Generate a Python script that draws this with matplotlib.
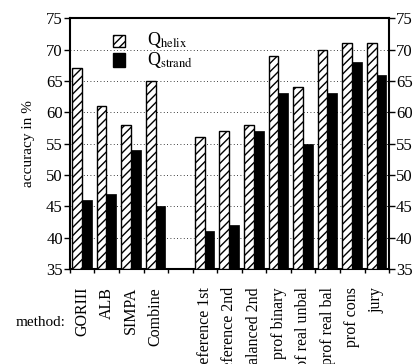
import matplotlib
matplotlib.use("Agg")
import matplotlib.pyplot as plt
import numpy as np

methods = ["GORIII", "ALB", "SIMPA", "Combine", "",
           "reference 1st", "reference 2nd", "balanced 2nd", "prof binary",
           "prof real unbal", "prof real bal", "prof cons", "jury"]
q_helix = [67, 61, 58, 65, np.nan, 56, 57, 58, 69, 64, 70, 71, 71]
q_strand = [46, 47, 54, 45, np.nan, 41, 42, 57, 63, 55, 63, 68, 66]
yticks = [35, 40, 45, 50, 55, 60, 65, 70, 75]

plt.rcParams["font.family"] = ["Liberation Serif", "DejaVu Serif"]
plt.rcParams["mathtext.fontset"] = "stix"
plt.rcParams["hatch.linewidth"] = 1.0

fig = plt.figure(figsize=(4.18, 3.64), dpi=100)
ax = fig.add_axes([0.167, 0.261, 0.764, 0.689])

x = np.arange(len(methods))
ax.bar(x + 0.29, np.array(q_helix) - 35, width=0.40, bottom=35,
       color="white", edgecolor="black", hatch="////", linewidth=1.0, zorder=3)
ax.bar(x + 0.69, np.array(q_strand) - 35, width=0.40, bottom=35,
       color="black", edgecolor="black", linewidth=0.5, zorder=3)

ax.set_xlim(0, len(methods))
ax.set_ylim(35, 75)
ax.set_yticks(yticks)
ax.tick_params(axis="y", direction="out", length=4, width=1, labelsize=12,
               left=True, right=True, labelleft=True, labelright=True, pad=1)
ax.set_xticks(np.arange(len(methods) + 1))
ax.set_xticklabels([])
ax.tick_params(axis="x", which="major", direction="out", length=3, width=1)
ax.set_xticks(x + 0.5, minor=True)
ax.set_xticklabels(methods, minor=True, rotation=90, fontsize=11.5, va="top")
ax.tick_params(axis="x", which="minor", length=0, pad=13)

for v in yticks[1:-1]:
    ax.axhline(v, color="black", linestyle=(0, (1, 3)), linewidth=0.6, zorder=1)

for s in ax.spines.values():
    s.set_linewidth(1.5)

ax.set_ylabel("accuracy in %", fontsize=11, labelpad=8)
fig.text(0.096, 0.115, "method:", fontsize=11, ha="center", va="center")

# legend
ax.bar([2.0], [1.9], width=0.49, bottom=[70.4], color="white", edgecolor="black",
       hatch="////", linewidth=1.0, zorder=4)
ax.bar([2.0], [2.2], width=0.49, bottom=[67.2], color="black", edgecolor="black",
       zorder=4)
ax.text(3.15, 71.5, r"Q$_{\mathrm{helix}}$", fontsize=13, va="center", ha="left", zorder=5)
ax.text(3.15, 68.3, r"Q$_{\mathrm{strand}}$", fontsize=13, va="center", ha="left", zorder=5)

fig.savefig("out.png", dpi=100)
